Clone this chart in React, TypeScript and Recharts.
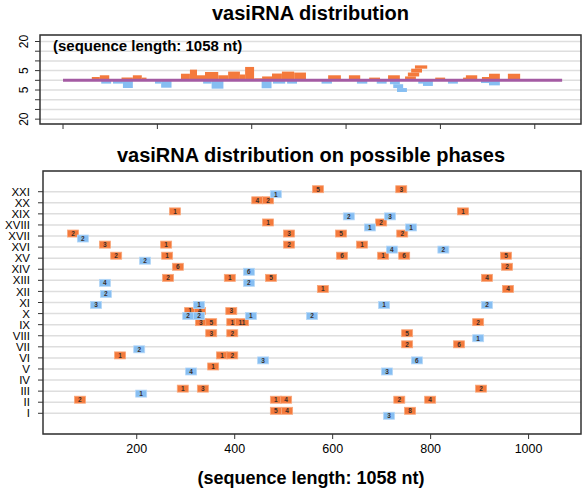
import React from 'react';
import { ComposedChart, ScatterChart, Scatter, Line, XAxis, YAxis, CartesianGrid, ReferenceArea } from 'recharts';

const ORANGE = '#F47A3C';
const BLUE = '#86BEF2';
const PURPLE = '#A45BA3';
const GRID = '#DEDEDE';
const FONT = 'Liberation Sans, Arial, Helvetica, sans-serif';

const SEQ_LEN = 1058;

// phase names, bottom to top
const PHASES = ['I', 'II', 'III', 'IV', 'V', 'VI', 'VII', 'VIII', 'IX', 'X', 'XI', 'XII', 'XIII', 'XIV', 'XV', 'XVI', 'XVII', 'XVIII', 'XIX', 'XX', 'XXI'];
const PHASE_TICKS = PHASES.map((_, i) => i + 1);

const TOP_X_TICKS = [0, 200, 400, 600, 800, 1000];
const TOP_Y_TICKS = [-20, -15, -10, -5, 0, 5, 10, 15, 20];
const BOTTOM_X_TICKS = [200, 400, 600, 800, 1000];

// top panel coverage: [start, end, low, high]
const TOP_SENSE: [number, number, number, number][] = [
  [61, 78, 0, 1.7], [78, 98, 0, 2.6], [124, 148, 0, 1.4], [148, 167, 0, 2.6], [167, 177, 0, 1.4],
  [250, 269, 0, 3.4], [269, 284, 0, 5.5], [284, 301, 0, 2.6], [301, 329, 0, 4.3], [329, 350, 0, 2.6],
  [350, 375, 0, 4.5], [375, 386, 0, 3], [386, 405, 0, 6.9], [405, 422, 0, 1], [422, 443, 0, 2],
  [443, 464, 0, 3.5], [464, 490, 0, 4.5], [490, 515, 0, 4],
  [562, 589, 0, 2.6], [606, 630, 0, 2.6], [649, 672, 0, 1.4], [689, 714, 0, 2.6],
  [725, 748, 0, 2], [731, 755, 2, 4], [738, 761, 4, 6], [746, 772, 6, 7.7],
  [789, 810, 0, 1.4], [848, 856, 0, 1.4], [854, 878, 0, 2.6], [888, 903, 0, 1.7], [903, 926, 0, 3.4],
  [943, 969, 0, 3.4],
];

const TOP_ANTISENSE: [number, number, number, number][] = [
  [81, 102, 0, -1.7], [106, 127, 0, -1.7], [127, 148, 0, -4], [195, 208, 0, -1.7], [208, 230, 0, -3.8],
  [297, 315, 0, -1.7], [315, 340, 0, -4.3], [421, 442, 0, -4.1], [445, 471, 0, -1.7], [475, 496, 0, -1.7],
  [548, 570, 0, -1.7], [623, 645, 0, -1.7], [665, 686, 0, -1.7],
  [693, 714, 0, -2], [700, 721, -2, -4], [708, 729, -4, -6],
  [753, 763, 0, -1.7], [763, 784, 0, -2.9], [816, 837, 0, -1.7], [886, 903, 0, -1.4], [903, 926, 0, -2.6],
];

// bottom panel: [phase, position, count]
const SENSE_HITS: [number, number, number][] = [
  [21, 570, 5], [21, 740, 3],
  [20, 446, 4], [20, 468, 2],
  [19, 278, 1], [19, 866, 1],
  [18, 468, 1], [18, 699, 2],
  [17, 70, 2], [17, 511, 3], [17, 617, 5], [17, 742, 2],
  [16, 135, 3], [16, 260, 1], [16, 511, 2], [16, 660, 1],
  [15, 158, 2], [15, 262, 1], [15, 619, 6], [15, 703, 1], [15, 746, 6], [15, 954, 5],
  [14, 284, 6], [14, 956, 2],
  [13, 264, 2], [13, 390, 1], [13, 474, 5], [13, 915, 4],
  [12, 580, 1], [12, 958, 4],
  [10, 309, 1], [10, 329, 4], [10, 393, 3],
  [9, 331, 3], [9, 352, 5], [9, 395, 1], [9, 415, 11], [9, 897, 2],
  [8, 352, 3], [8, 395, 2], [8, 752, 5],
  [7, 752, 2], [7, 858, 6],
  [6, 166, 1], [6, 374, 1], [6, 395, 2],
  [5, 356, 1],
  [3, 294, 1], [3, 335, 3], [3, 903, 2],
  [2, 84, 2], [2, 484, 1], [2, 505, 4], [2, 736, 2], [2, 799, 4],
  [1, 484, 5], [1, 507, 4], [1, 758, 8],
];

const ANTISENSE_HITS: [number, number, number][] = [
  [21, 484, 1],
  [19, 633, 2], [19, 717, 3],
  [18, 676, 1], [18, 760, 1],
  [17, 90, 2],
  [16, 721, 4], [16, 826, 2],
  [15, 217, 2],
  [14, 429, 6],
  [13, 135, 4], [13, 429, 2],
  [12, 137, 2],
  [11, 117, 3], [11, 327, 1], [11, 705, 1], [11, 915, 2],
  [10, 305, 2], [10, 327, 2], [10, 433, 1], [10, 558, 2],
  [8, 897, 1],
  [7, 205, 2],
  [6, 458, 3], [6, 772, 6],
  [5, 311, 4], [5, 711, 3],
  [3, 209, 1],
  [1, 715, 3],
];

const baseline = [{ x: 0, y: 0 }, { x: SEQ_LEN, y: 0 }];
const senseData = SENSE_HITS.map(([row, pos, n]) => ({ row, pos, n }));
const antisenseData = ANTISENSE_HITS.map(([row, pos, n]) => ({ row, pos, n }));

const TOP_X_DOMAIN: [number, number] = [-48.8, 1098];
const TOP_Y_DOMAIN: [number, number] = [-22.5, 23.35];
const BOT_X_DOMAIN: [number, number] = [8.6, 1107];
const BOT_Y_DOMAIN: [number, number] = [-0.87, 22.87];

const TopYTick = (props: any) => {
  const { x, y, payload } = props;
  const v = Math.abs(payload.value);
  if (v !== 20 && v !== 5) return <g />;
  const tx = x - 5;
  return (
    <text x={tx} y={y} transform={`rotate(-90 ${tx} ${y})`} textAnchor="middle" fontSize={12} fill="#000" fontFamily={FONT}>
      {v}
    </text>
  );
};

const makeBox = (fill: string, edge: string, shift: number) => (props: any) => {
  const { cx, cy, payload } = props;
  if (cx == null || cy == null) return <g />;
  const y = cy + shift;
  const w = payload.n > 9 ? 13 : 11;
  return (
    <g>
      <rect x={cx - w / 2} y={y - 3.5} width={w} height={7} fill={fill} stroke={edge} strokeWidth={0.8} />
      <text x={cx} y={y + 2.4} fontSize={6.5} textAnchor="middle" fill="#3a2e2a" fontFamily={FONT} fontWeight="bold">
        {payload.n}
      </text>
    </g>
  );
};

const SenseBox = makeBox(ORANGE, '#F8A77B', -2.5);
const AntisenseBox = makeBox(BLUE, '#B5D7F7', 2.5);

export default function App() {
  return (
    <div style={{ position: 'absolute', left: 0, top: 0, width: 582, height: 489, background: '#fff', fontFamily: FONT }}>
      <div style={{ position: 'absolute', left: 0, top: 0 }}>
        <ComposedChart width={582} height={135} data={baseline} margin={{ top: 35, right: 1, bottom: 0, left: 0 }}>
          <CartesianGrid vertical={false} stroke={GRID} strokeWidth={1.5} />
          <XAxis
            dataKey="x"
            type="number"
            domain={TOP_X_DOMAIN}
            ticks={TOP_X_TICKS}
            tick={() => <g />}
            height={11}
            tickSize={5}
            axisLine={false}
            stroke="#333"
            allowDataOverflow
          />
          <YAxis
            type="number"
            domain={TOP_Y_DOMAIN}
            ticks={TOP_Y_TICKS}
            tick={TopYTick}
            interval={0}
            width={40}
            tickSize={5}
            axisLine={false}
            stroke="#333"
            allowDataOverflow
          />
          {TOP_SENSE.map(([x1, x2, y1, y2], i) => (
            <ReferenceArea key={'s' + i} x1={x1} x2={x2} y1={y1} y2={y2} fill={ORANGE} fillOpacity={1} stroke="none" ifOverflow="visible" />
          ))}
          {TOP_ANTISENSE.map(([x1, x2, y1, y2], i) => (
            <ReferenceArea key={'a' + i} x1={x1} x2={x2} y1={y1} y2={y2} fill={BLUE} fillOpacity={1} stroke="none" ifOverflow="visible" />
          ))}
          <Line dataKey="y" stroke={PURPLE} strokeWidth={3} dot={false} isAnimationActive={false} />
          <ReferenceArea
            x1={TOP_X_DOMAIN[0]}
            x2={TOP_X_DOMAIN[1]}
            y1={TOP_Y_DOMAIN[0]}
            y2={TOP_Y_DOMAIN[1]}
            fill="none"
            stroke="#333"
            strokeWidth={1.5}
            ifOverflow="visible"
          />
        </ComposedChart>
      </div>
      <div style={{ position: 'absolute', left: 0, top: 135 }}>
        <ScatterChart width={582} height={354} margin={{ top: 36, right: 1, bottom: 0, left: 0 }}>
          <CartesianGrid vertical={false} stroke={GRID} strokeWidth={1.5} />
          <XAxis
            dataKey="pos"
            type="number"
            domain={BOT_X_DOMAIN}
            ticks={BOTTOM_X_TICKS}
            height={55}
            tickSize={5}
            tickMargin={5}
            axisLine={false}
            stroke="#333"
            tick={{ fill: '#000', fontSize: 12.5, fontFamily: FONT }}
            allowDataOverflow
          />
          <YAxis
            dataKey="row"
            type="number"
            domain={BOT_Y_DOMAIN}
            ticks={PHASE_TICKS}
            tickFormatter={(v: number) => PHASES[v - 1]}
            interval={0}
            width={43}
            tickSize={5}
            tickMargin={8}
            axisLine={false}
            stroke="#333"
            tick={{ fill: '#000', fontSize: 11.5, fontFamily: FONT }}
            allowDataOverflow
          />
          <ReferenceArea
            x1={BOT_X_DOMAIN[0]}
            x2={BOT_X_DOMAIN[1]}
            y1={BOT_Y_DOMAIN[0]}
            y2={BOT_Y_DOMAIN[1]}
            fill="none"
            stroke="#333"
            strokeWidth={1.5}
            ifOverflow="visible"
          />
          <Scatter data={senseData} fill={ORANGE} shape={SenseBox} isAnimationActive={false} />
          <Scatter data={antisenseData} fill={BLUE} shape={AntisenseBox} isAnimationActive={false} />
        </ScatterChart>
      </div>
      <svg width={582} height={489} style={{ position: 'absolute', left: 0, top: 0, pointerEvents: 'none' }}>
        <text x={310.5} y={20} textAnchor="middle" fontSize={20} fontWeight="bold" fill="#000" fontFamily={FONT}>
          vasiRNA distribution
        </text>
        <text x={53} y={51} fontSize={15} fontWeight="bold" fill="#000" fontFamily={FONT}>
          (sequence length: 1058 nt)
        </text>
        <text x={311} y={162} textAnchor="middle" fontSize={20} fontWeight="bold" fill="#000" fontFamily={FONT}>
          vasiRNA distribution on possible phases
        </text>
        <text x={311} y={484} textAnchor="middle" fontSize={18} fontWeight="bold" fill="#000" fontFamily={FONT}>
          (sequence length: 1058 nt)
        </text>
      </svg>
    </div>
  );
}
